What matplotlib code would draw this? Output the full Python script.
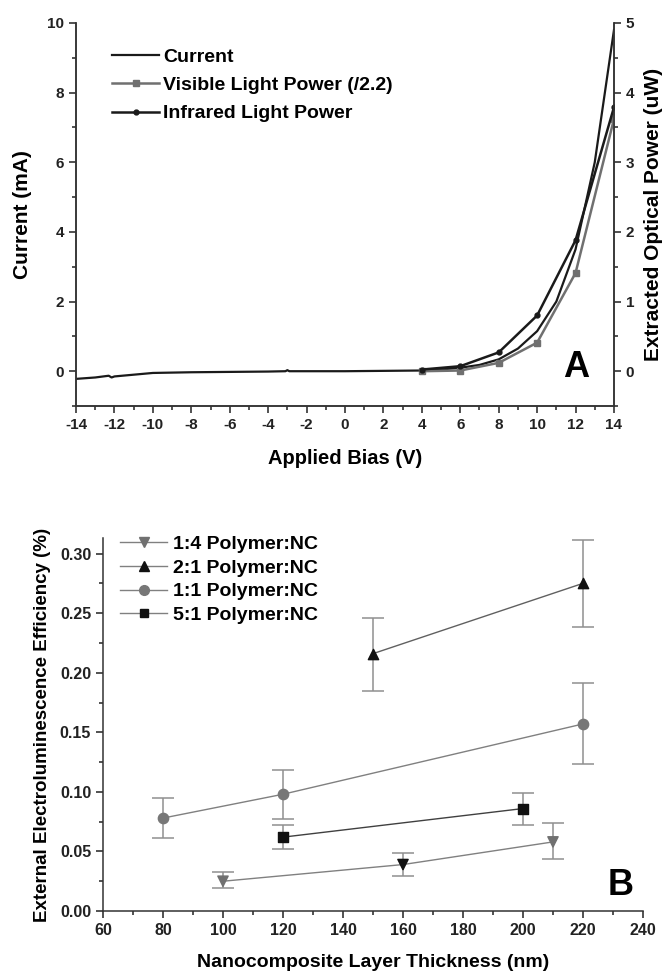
import matplotlib
matplotlib.use("Agg")
import matplotlib.pyplot as plt
from matplotlib.ticker import MultipleLocator, FormatStrFormatter

plt.rcParams['font.family'] = ['Liberation Sans', 'DejaVu Sans']
plt.rcParams['font.weight'] = 'bold'
plt.rcParams['axes.unicode_minus'] = False

# ---------------- Panel A data ----------------
bias_current = [-14, -13, -12.3, -12.15, -12.0, -11, -10, -8, -6, -4, -3.1, -3.0, -2.9, -2, 0, 2, 4, 5, 6, 7, 8, 9, 10, 11, 12, 13, 14]
current_mA = [-0.22, -0.18, -0.13, -0.18, -0.15, -0.10, -0.05, -0.03, -0.02, -0.01, 0.0, 0.03, 0.0, 0.0, 0.0, 0.01, 0.02, 0.05, 0.10, 0.18, 0.34, 0.65, 1.15, 2.0, 3.5, 6.0, 9.8]

bias_power = [4, 6, 8, 10, 12, 14]
visible_uW = [0.00, 0.01, 0.12, 0.41, 1.41, 3.62]
infrared_uW = [0.024, 0.072, 0.27, 0.80, 1.88, 3.79]

# ---------------- Panel B data ----------------
thick_14 = [100, 160, 210]
eff_14 = [0.025, 0.039, 0.058]
err_lo_14 = [0.006, 0.010, 0.014]
err_hi_14 = [0.008, 0.010, 0.016]
col_14 = ['#707070', '#111111', '#707070']

thick_21 = [150, 220]
eff_21 = [0.216, 0.275]
err_lo_21 = [0.031, 0.037]
err_hi_21 = [0.030, 0.036]

thick_11 = [80, 120, 220]
eff_11 = [0.078, 0.098, 0.157]
err_lo_11 = [0.017, 0.021, 0.034]
err_hi_11 = [0.017, 0.020, 0.034]

thick_51 = [120, 200]
eff_51 = [0.062, 0.086]
err_lo_51 = [0.010, 0.014]
err_hi_51 = [0.010, 0.013]

fig = plt.figure(figsize=(6.67, 9.73), dpi=100)


def style_ticks(ax, size):
    ax.tick_params(which='both', direction='out', labelsize=size, width=1.1, colors='#222222')
    ax.tick_params(which='major', length=5)
    ax.tick_params(which='minor', length=3)
    for lab in ax.get_xticklabels() + ax.get_yticklabels():
        lab.set_fontweight('bold')
    for s in ax.spines.values():
        s.set_linewidth(1.1)
        s.set_color('#333333')


# ================= Panel A =================
axA = fig.add_axes([0.114, 0.5827, 0.8065, 0.3937])
axA.plot(bias_current, current_mA, color='#1a1a1a', lw=1.6, label='Current')
axA.set_xlim(-14, 14)
axA.set_ylim(-1, 10)
axA.spines['top'].set_visible(False)
axA.xaxis.set_major_locator(MultipleLocator(2))
axA.xaxis.set_minor_locator(MultipleLocator(1))
axA.yaxis.set_major_locator(MultipleLocator(2))
axA.yaxis.set_minor_locator(MultipleLocator(1))
style_ticks(axA, 11)
axA.set_xlabel('Applied Bias (V)', fontsize=14.5, fontweight='bold', labelpad=12)
axA.set_ylabel('Current (mA)', fontsize=15, fontweight='bold', labelpad=11)

axA2 = axA.twinx()
axA2.plot(bias_power, visible_uW, color='#707070', lw=1.8, marker='s', ms=5,
          label='Visible Light Power (/2.2)')
axA2.plot(bias_power, infrared_uW, color='#1a1a1a', lw=1.8, marker='o', ms=3.5,
          label='Infrared Light Power')
axA2.set_ylim(-0.5, 5)
axA2.spines['top'].set_visible(False)
axA2.yaxis.set_major_locator(MultipleLocator(1))
axA2.yaxis.set_minor_locator(MultipleLocator(0.5))
style_ticks(axA2, 11)
axA2.set_ylabel('Extracted Optical Power (uW)', fontsize=15, fontweight='bold', labelpad=7)

h1, l1 = axA.get_legend_handles_labels()
h2, l2 = axA2.get_legend_handles_labels()
axA.legend(h1 + h2, l1 + l2, loc='upper left', bbox_to_anchor=(0.035, 0.98), frameon=False,
           prop={'weight': 'bold', 'size': 14}, handlelength=2.4, handletextpad=0.2,
           labelspacing=0.55)
axA.text(0.930, 0.076, 'A', transform=axA.transAxes, fontsize=26, fontweight='bold',
         ha='center', va='baseline', color='black')

# ================= Panel B =================
axB = fig.add_axes([0.1544, 0.0637, 0.8096, 0.3833])
grey = '#808080'
ln_kw = dict(lw=1.0, capsize=8, elinewidth=1.1, capthick=1.1, ecolor='#909090')

# 1:4
axB.errorbar(thick_14, eff_14, yerr=[err_lo_14, err_hi_14], color=grey, fmt='-', **ln_kw)
axB.scatter(thick_14, eff_14, marker='v', s=55, c=col_14, zorder=5)
axB.plot([], [], color=grey, lw=1.0, marker='v', ms=7, mfc='#707070', mec='#707070',
         label='1:4 Polymer:NC')
# 2:1
axB.errorbar(thick_21, eff_21, yerr=[err_lo_21, err_hi_21], color='#606060', fmt='-', **ln_kw)
axB.scatter(thick_21, eff_21, marker='^', s=55, c='#111111', zorder=5)
axB.plot([], [], color=grey, lw=1.0, marker='^', ms=7, mfc='#111111', mec='#111111',
         label='2:1 Polymer:NC')
# 1:1
axB.errorbar(thick_11, eff_11, yerr=[err_lo_11, err_hi_11], color=grey, fmt='-', **ln_kw)
axB.scatter(thick_11, eff_11, marker='o', s=55, c='#777777', zorder=5)
axB.plot([], [], color=grey, lw=1.0, marker='o', ms=7, mfc='#777777', mec='#777777',
         label='1:1 Polymer:NC')
# 5:1
axB.errorbar(thick_51, eff_51, yerr=[err_lo_51, err_hi_51], color='#404040', fmt='-', **ln_kw)
axB.scatter(thick_51, eff_51, marker='s', s=45, c='#111111', zorder=5)
axB.plot([], [], color=grey, lw=1.0, marker='s', ms=6, mfc='#111111', mec='#111111',
         label='5:1 Polymer:NC')

axB.set_xlim(60, 240)
axB.set_ylim(0, 0.313)
axB.spines['top'].set_visible(False)
axB.spines['right'].set_visible(False)
axB.xaxis.set_major_locator(MultipleLocator(20))
axB.xaxis.set_minor_locator(MultipleLocator(10))
axB.yaxis.set_major_locator(MultipleLocator(0.05))
axB.yaxis.set_minor_locator(MultipleLocator(0.025))
axB.yaxis.set_major_formatter(FormatStrFormatter('%.2f'))
style_ticks(axB, 11.5)
axB.set_xlabel('Nanocomposite Layer Thickness (nm)', fontsize=14, fontweight='bold', labelpad=12)
axB.set_ylabel('External Electroluminescence Efficiency (%)', fontsize=13.5, fontweight='bold', labelpad=6)
axB.legend(loc='upper left', bbox_to_anchor=(0.0, 1.055), frameon=False,
           prop={'weight': 'bold', 'size': 14}, handlelength=2.4, handletextpad=0.3,
           labelspacing=0.32)
axB.text(0.959, 0.043, 'B', transform=axB.transAxes, fontsize=26, fontweight='bold',
         ha='center', va='baseline', color='black')

fig.savefig('out.png', dpi=100)
